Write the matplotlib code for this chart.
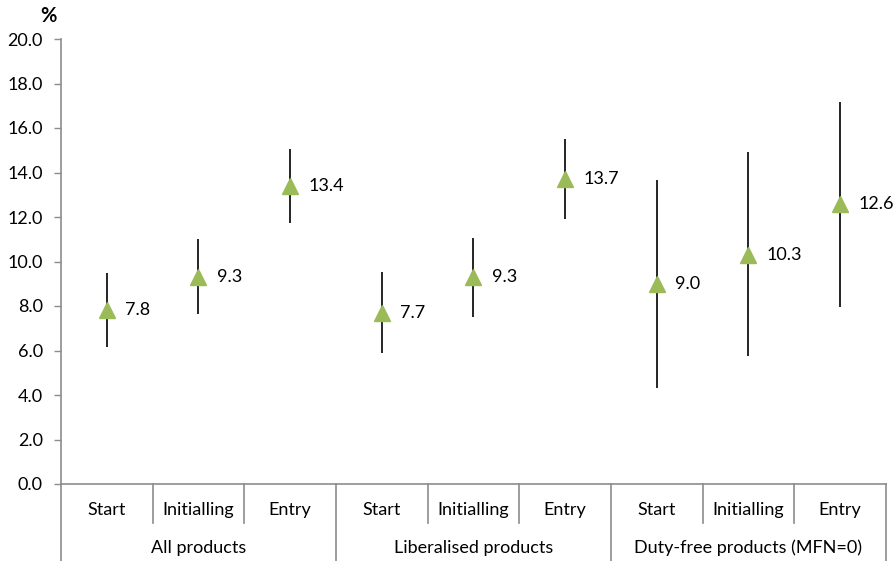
import matplotlib.pyplot as plt
from matplotlib.transforms import blended_transform_factory

# Average tariff at each stage, with the low/high range drawn as a line
groups = ['All products', 'Liberalised products', 'Duty-free products (MFN=0)']
stages = ['Start', 'Initialling', 'Entry']
values = [7.8, 9.3, 13.4, 7.7, 9.3, 13.7, 9.0, 10.3, 12.6]
low = [6.15, 7.65, 11.75, 5.9, 7.5, 11.9, 4.3, 5.75, 7.95]
high = [9.5, 11.0, 15.05, 9.55, 11.05, 15.5, 13.65, 14.9, 17.15]

plt.rcParams['font.family'] = ['Lato', 'DejaVu Sans']
axis_grey = '#8c8c8c'
fs = 13

fig = plt.figure(figsize=(8.95, 5.61), dpi=100)
ax = fig.add_axes([61 / 895, 77 / 561, 825 / 895, 445 / 561])

n = len(values)
x = [i + 0.5 for i in range(n)]

ax.vlines(x, low, high, color='black', linewidth=1.2, zorder=2)
ax.plot(x, values, linestyle='none', marker='^', markersize=11.5,
        color='#9bbb59', zorder=3)
for xi, v in zip(x, values):
    ax.annotate('{:.1f}'.format(v), (xi, v), xytext=(13, 0),
                textcoords='offset points', va='center', ha='left',
                fontsize=fs, color='black')

ax.set_xlim(0, n)
ax.set_ylim(0, 20)
ax.set_yticks([i * 2 for i in range(11)])
ax.set_yticklabels(['{:.1f}'.format(i * 2) for i in range(11)], fontsize=fs)
ax.tick_params(axis='y', direction='out', length=5, width=1, color=axis_grey, pad=8)
ax.set_xticks([])

for side in ['top', 'right']:
    ax.spines[side].set_visible(False)
for side in ['left', 'bottom']:
    ax.spines[side].set_color(axis_grey)
    ax.spines[side].set_linewidth(1.2)

# Two-level category axis drawn below the plot
trans = blended_transform_factory(ax.transData, ax.transAxes)
small_drop = -39 / 445
big_drop = -77 / 445
for i in range(n + 1):
    bottom = big_drop if i % 3 == 0 else small_drop
    ax.plot([i, i], [0, bottom], color=axis_grey, linewidth=1.2,
            transform=trans, clip_on=False)
for i in range(n):
    ax.text(i + 0.5, -26 / 445, stages[i % 3], transform=trans,
            ha='center', va='center', fontsize=fs)
for g, name in enumerate(groups):
    ax.text(g * 3 + 1.5, -64 / 445, name, transform=trans,
            ha='center', va='center', fontsize=fs)

fig.text(48 / 895, 1 - 16 / 561, '%', ha='center', va='center',
         fontsize=14.5, fontweight='bold')

fig.savefig('out.png', dpi=100)
